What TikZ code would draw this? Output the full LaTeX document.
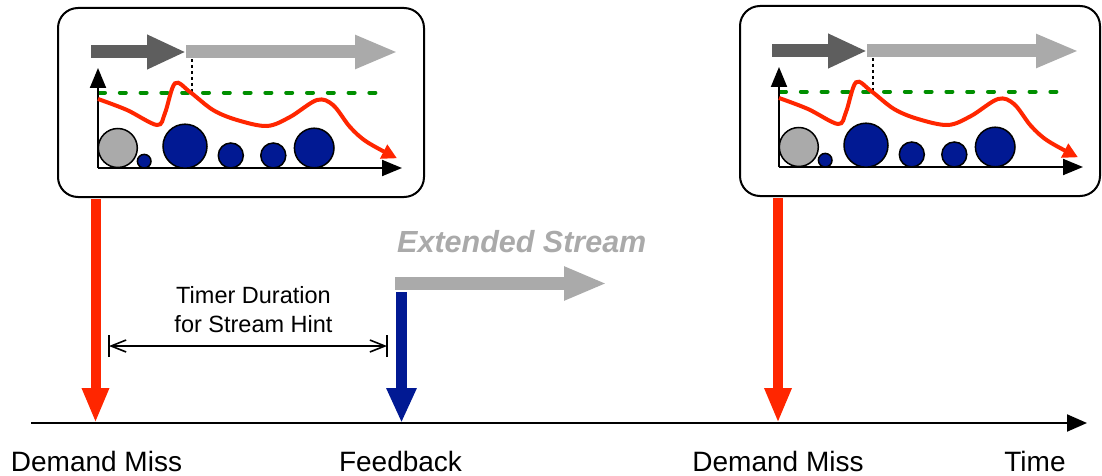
\documentclass[tikz,border=0pt]{standalone}
\usepackage{fontspec}
\setmainfont{Liberation Sans}
\usetikzlibrary{arrows.meta}
\definecolor{mred}{RGB}{255,38,0}
\definecolor{mblue}{RGB}{1,25,147}
\definecolor{mgreen}{RGB}{0,143,0}
\definecolor{dgray}{RGB}{94,94,94}
\definecolor{lgray}{RGB}{170,170,170}
\tikzset{
  panel/.style={draw=black, line width=2pt, rounded corners=20pt, rectangle, inner sep=0pt, fill=white},
  axisline/.style={draw=black, line width=2pt, -{Triangle[length=20pt,width=16pt]}},
  bubble/.style={draw=black, line width=1.5pt, fill=mblue},
  missarrow/.style={draw=mred, line width=10pt, -{Triangle[length=35pt,width=25pt]}},
  fbarrow/.style={draw=mblue, line width=11pt, -{Triangle[length=35pt,width=28pt]}},
  streamarrow/.style={draw=lgray, line width=13pt, -{Triangle[length=43pt,width=31pt]}},
  lbl/.style={font=\fontsize{28}{34}\selectfont, inner sep=0pt, anchor=base},
  minichart/.pic={
    \draw[streamarrow] (88,-116) -- (300,-116);
    \draw[draw=dgray, line width=13pt, -{Triangle[length=39pt,width=32pt]}] (-7,-116) -- (88,-116);
    \draw[black, line width=2pt, dash pattern=on 3pt off 3pt] (94,-109) -- (94,-76);
    \draw[mgreen, line width=4pt, line cap=round, dash pattern=on 6pt off 14.8pt] (1,-75.3) -- (290,-75.3);
    \draw[axisline] (0,0) -- (0,-100);
    \draw[axisline] (0,0) -- (304,0);
    \draw[bubble, fill=lgray] (19.8,-20) circle[radius=19.5pt];
    \draw[bubble] (46.2,-6.8) circle[radius=6.8pt];
    \draw[bubble] (87,-21.8) circle[radius=22pt];
    \draw[bubble] (132.8,-12.5) circle[radius=12.5pt];
    \draw[bubble] (175.3,-12.5) circle[radius=12.5pt];
    \draw[bubble] (216.2,-20) circle[radius=19.8pt];
    \draw[mred, line width=4pt, -{Triangle[length=15pt,width=15pt]}]
      plot[smooth, tension=0.55] coordinates {(0,-69) (29,-58) (59,-43) (67,-55) (77,-84.7) (92,-76) (115,-58) (139,-48) (169,-42) (192,-51) (219,-68) (235,-63) (252,-41) (269,-26) (299,-9.7)};
  }
}
\begin{document}
\begin{tikzpicture}[x=1pt,y=-1pt]
\useasboundingbox (0,0) rectangle (1102,476);
% panels
\node[panel, minimum width=366pt, minimum height=189pt] (lbox) at (241,102.5) {};
\node[panel, minimum width=360pt, minimum height=190pt] (rbox) at (920,101) {};
\pic at (98,168) {minichart};
\pic at (779,167) {minichart};
% coordinates
\coordinate (dm1top) at (95.5,199);
\coordinate (dm1) at (95.5,423);
\coordinate (dm2top) at (778,198);
\coordinate (dm2) at (778,423);
\coordinate (fbtop) at (401.5,292);
\coordinate (fb) at (401.5,423);
\coordinate (tstart) at (31,423);
\coordinate (tend) at (1087,423);
\coordinate (extS) at (395,283.5);
\coordinate (extE) at (607,283.5);
\coordinate (durL) at (109,346);
\coordinate (durR) at (387,346);
% timeline
\draw[black, line width=2pt, -{Triangle[length=20pt,width=17pt]}] (tstart) -- (tend);
% event arrows
\draw[missarrow] (dm1top) -- (dm1);
\draw[missarrow] (dm2top) -- (dm2);
\draw[streamarrow] (extS) -- (extE);
\draw[fbarrow] (fbtop) -- (fb);
% duration
\draw[black, line width=1.6pt, {Straight Barb[length=15pt,width=12pt]}-{Straight Barb[length=15pt,width=12pt]}] (durL) -- (durR);
\draw[black, line width=1.6pt] ([yshift=-11pt]durL) -- ([yshift=11pt]durL);
\draw[black, line width=1.6pt] ([yshift=-11pt]durR) -- ([yshift=11pt]durR);
\node[font=\fontsize{23.5}{29}\selectfont, align=center, inner sep=0pt, anchor=base] (timer) at (253.5,332) {Timer Duration\\for Stream Hint};
% labels
\node[font=\fontsize{30.5}{36}\selectfont\bfseries\itshape, text=lgray, inner sep=0pt, anchor=base west] (ext) at (397,252) {Extended Stream};
\node[lbl] (l1) at (96.5,471) {Demand Miss};
\node[lbl] (l2) at (400.5,471) {Feedback};
\node[lbl] (l3) at (778,471) {Demand Miss};
\node[lbl] (l4) at (1035,471) {Time};
\end{tikzpicture}
\end{document}
